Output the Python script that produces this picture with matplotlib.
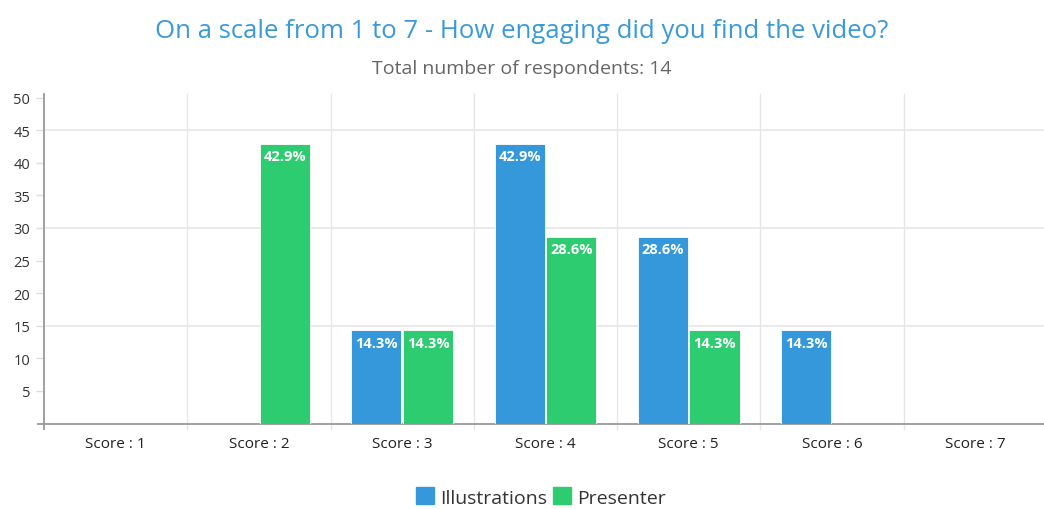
import numpy as np
import matplotlib.pyplot as plt

categories = ['Score : 1', 'Score : 2', 'Score : 3', 'Score : 4', 'Score : 5', 'Score : 6', 'Score : 7']
illustrations = [0, 0, 14.3, 42.9, 28.6, 14.3, 0]
presenter = [0, 42.9, 14.3, 28.6, 14.3, 0, 0]
y_ticks = [5, 10, 15, 20, 25, 30, 35, 40, 45, 50]

blue = '#3498db'
green = '#2ecc71'

plt.rcParams['font.family'] = ['Open Sans', 'DejaVu Sans']

fig = plt.figure(figsize=(10.44, 5.10), dpi=100)
ax = fig.add_axes([44 / 1044, 85.4 / 510, 1 - 44 / 1044, (425 - 95) / 510])

x = np.arange(len(categories))
w = 0.35
b1 = ax.bar(x - w / 2 - 0.005, illustrations, w, color=blue, edgecolor='white', linewidth=0.6, zorder=3)
b2 = ax.bar(x + w / 2 + 0.005, presenter, w, color=green, edgecolor='white', linewidth=0.6, zorder=3)

for bars in (b1, b2):
    for r in bars:
        h = r.get_height()
        if h > 0:
            ax.text(r.get_x() + r.get_width() / 2, h - 0.8, '%.1f%%' % h,
                    ha='center', va='top', color='white', fontsize=10.5,
                    fontweight='bold', zorder=4)

ax.set_xlim(-0.5, 6.48)
ax.set_ylim(0, 50.6)

# horizontal grid only at 15/30/45
for v in (15, 30, 45):
    ax.axhline(v, color='#e6e6e6', linewidth=1.2, zorder=1)
for b in np.arange(0.5, 6.5, 1):
    ax.plot([b, b], [-0.9, 50.6], color='#e6e6e6', linewidth=1.0, zorder=1, clip_on=False)

ax.set_yticks(y_ticks)
ax.set_yticklabels([str(v) for v in y_ticks], fontsize=10.5, color='#333333')
ax.tick_params(axis='y', length=6, color='#dddddd', width=1, pad=4)
ax.set_xticks(x)
ax.set_xticklabels(categories, fontsize=11, color='#222222')
ax.tick_params(axis='x', length=0, pad=9)

for s in ('top', 'right'):
    ax.spines[s].set_visible(False)
ax.spines['left'].set_color('#999999')
ax.spines['left'].set_linewidth(1.3)
ax.spines['left'].set_bounds(-0.9, 50.6)
ax.spines['bottom'].set_color('#999999')
ax.spines['bottom'].set_linewidth(1.3)
ax.plot([-0.545, -0.5], [0, 0], color='#999999', linewidth=1.3, clip_on=False)

fig.text(0.5, 1 - 31 / 510, 'On a scale from 1 to 7 - How engaging did you find the video?',
         ha='center', va='center', fontsize=18.5, color='#3a9ad9')
fig.text(0.5, 1 - 69 / 510, 'Total number of respondents: 14',
         ha='center', va='center', fontsize=14, color='#666666')

handles = [plt.Rectangle((0, 0), 1, 1, color=blue), plt.Rectangle((0, 0), 1, 1, color=green)]
fig.legend(handles, ['Illustrations', 'Presenter'], loc='center', bbox_to_anchor=(0.518, 1 - 498 / 510),
           ncol=2, frameon=False, fontsize=14, handlelength=0.95, handleheight=0.95,
           handletextpad=0.3, columnspacing=0.3, labelcolor='#333333')

fig.savefig('out.png', dpi=100)
